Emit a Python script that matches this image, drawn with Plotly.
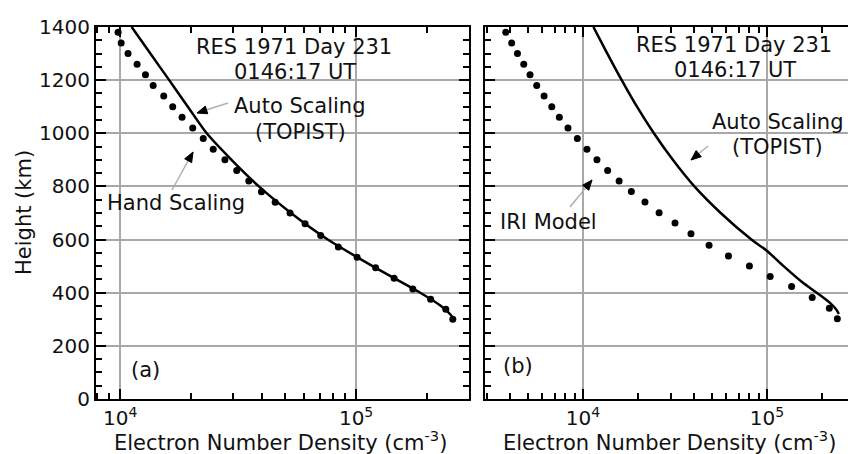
import plotly.graph_objects as go
import math

# ---------------- data ----------------
# Panel (a): hand scaling (dots) and auto scaling TOPIST (line)
hand_h = [1380, 1340, 1300, 1260, 1220, 1180, 1140, 1100, 1060, 1020, 980, 940, 900, 860,
          820, 780, 740, 700, 660, 615, 572, 533, 494, 454, 414, 375, 338, 300]
hand_ne = [9.80e3, 1.01e4, 1.08e4, 1.18e4, 1.28e4, 1.38e4, 1.53e4, 1.67e4, 1.83e4, 2.03e4,
           2.25e4, 2.48e4, 2.78e4, 3.12e4, 3.51e4, 3.97e4, 4.54e4, 5.25e4, 6.08e4, 7.08e4,
           8.41e4, 1.01e5, 1.21e5, 1.45e5, 1.74e5, 2.07e5, 2.40e5, 2.57e5]
auto_a_h = [1400, 1300, 1200, 1100, 1000, 900, 800, 700, 600, 500, 400, 350, 320, 305]
auto_a_ne = [1.119e4, 1.343e4, 1.614e4, 1.936e4, 2.328e4, 2.965e4, 3.873e4, 5.297e4, 7.586e4,
             1.175e5, 1.871e5, 2.291e5, 2.500e5, 2.570e5]

# Panel (b): IRI model (dots) and auto scaling TOPIST (line)
iri_h = [1380, 1340, 1300, 1260, 1220, 1180, 1140, 1100, 1060, 1020, 980, 940, 900, 860,
         820, 781, 741, 701, 662, 622, 579, 538, 501, 461, 423, 382, 342, 302]
iri_ne = [3.80e3, 4.09e3, 4.40e3, 4.76e3, 5.15e3, 5.60e3, 6.14e3, 6.76e3, 7.43e3, 8.28e3,
          9.31e3, 1.05e4, 1.19e4, 1.36e4, 1.57e4, 1.83e4, 2.17e4, 2.59e4, 3.16e4, 3.86e4,
          4.84e4, 6.17e4, 8.02e4, 1.04e5, 1.36e5, 1.76e5, 2.18e5, 2.41e5]
auto_b_h = [1400, 1300, 1200, 1100, 1000, 900, 800, 700, 600, 560, 500, 440, 400, 360, 335, 320]
auto_b_ne = [1.138e4, 1.355e4, 1.622e4, 1.963e4, 2.427e4, 3.076e4, 4.027e4, 5.598e4, 8.222e4,
             9.890e4, 1.230e5, 1.550e5, 1.862e5, 2.213e5, 2.388e5, 2.455e5]

major_x = [1e4, 1e5]
major_x_text = ["10<sup>4</sup>", "10<sup>5</sup>"]
y_ticks = [0, 200, 400, 600, 800, 1000, 1200, 1400]

FONT = "DejaVu Sans"
W, H = 848, 454
ML, MR, MT, MB = 96, 0, 27, 55
PW, PH = W - ML - MR, H - MT - MB


def px(x, y):
    return (x - ML) / PW, (H - MB - y) / PH


fig = go.Figure()

fig.add_trace(go.Scatter(x=auto_a_ne, y=auto_a_h, mode="lines",
                         line=dict(color="black", width=2.5, shape="spline", smoothing=0.7),
                         xaxis="x", yaxis="y", showlegend=False))
fig.add_trace(go.Scatter(x=hand_ne, y=hand_h, mode="markers", marker=dict(color="black", size=7),
                         xaxis="x", yaxis="y", showlegend=False))
fig.add_trace(go.Scatter(x=auto_b_ne, y=auto_b_h, mode="lines",
                         line=dict(color="black", width=2.5, shape="spline", smoothing=0.8),
                         xaxis="x2", yaxis="y2", showlegend=False))
fig.add_trace(go.Scatter(x=iri_ne, y=iri_h, mode="markers", marker=dict(color="black", size=7),
                         xaxis="x2", yaxis="y2", showlegend=False))

minor_a = [m * 10 ** e for e in (3, 4, 5) for m in range(2, 10) if 7.9e3 < m * 10 ** e < 3.01e5]
minor_b = [m * 10 ** e for e in (3, 4, 5) for m in range(2, 10) if 2.9e3 < m * 10 ** e < 2.8e5]

dom_a = [0, (469 - ML) / PW]
dom_b = [(485 - ML) / PW, 1.0]

common_x = dict(type="log", showline=True, linecolor="black", linewidth=2, ticks="inside", ticklen=10,
                tickwidth=1.5, tickcolor="black", mirror="ticks", showgrid=True, gridcolor="#a8a8a8",
                gridwidth=1.5, zeroline=False, tickvals=major_x, ticktext=major_x_text, automargin=False,
                tickfont=dict(family=FONT, size=20, color="#111"))
common_y = dict(range=[0, 1400], showline=True, linecolor="black", linewidth=2, ticks="inside", ticklen=10,
                tickwidth=1.5, tickcolor="black", showgrid=True, gridcolor="#a8a8a8", gridwidth=1.5,
                zeroline=False, tickvals=y_ticks, tickfont=dict(family=FONT, size=20, color="#111"),
                automargin=False,
                minor=dict(dtick=50, ticks="inside", ticklen=6, tickwidth=1.5, tickcolor="black", showgrid=False))

fig.update_layout(
    width=W, height=H, margin=dict(l=ML, r=MR, t=MT, b=MB),
    paper_bgcolor="white", plot_bgcolor="white",
    font=dict(family=FONT, color="#111"),
    xaxis=dict(common_x, domain=dom_a, range=[math.log10(7.9e3), math.log10(3.01e5)], anchor="y",
               minor=dict(tickvals=minor_a, ticks="inside", ticklen=6, tickwidth=1.5, tickcolor="black",
                          showgrid=False)),
    yaxis=dict(common_y, domain=[0, 1], anchor="x", mirror="ticks"),
    xaxis2=dict(common_x, domain=dom_b, range=[3.467, 5.44], anchor="y2",
                minor=dict(tickvals=minor_b, ticks="inside", ticklen=6, tickwidth=1.5, tickcolor="black",
                           showgrid=False)),
    yaxis2=dict(common_y, domain=[0, 1], anchor="x2", mirror=False, showticklabels=False),
)

# axis titles
for cx in (280, 669):
    xp, yp = px(cx, 441)
    fig.add_annotation(text="Electron Number Density (cm<sup>-3</sup>)", x=xp, y=yp, xref="paper", yref="paper",
                       showarrow=False, xanchor="center", yanchor="middle",
                       font=dict(family=FONT, size=21, color="#111"))
xp, yp = px(24, 213)
fig.add_annotation(text="Height (km)", x=xp, y=yp, xref="paper", yref="paper", showarrow=False,
                   textangle=-90, xanchor="center", yanchor="middle", font=dict(family=FONT, size=21, color="#111"))

texts = [
    ("RES 1971 Day 231", 294, 47), ("0146:17 UT", 295, 72), ("Auto Scaling", 300, 106),
    ("(TOPIST)", 300, 132), ("Hand Scaling", 176, 203), ("(a)", 145, 370),
    ("RES 1971 Day 231", 734, 45), ("0146:17 UT", 735, 70), ("Auto Scaling", 778, 122),
    ("(TOPIST)", 777, 147), ("IRI Model", 548, 222), ("(b)", 518, 366),
]
for t, x, y in texts:
    xp, yp = px(x, y)
    fig.add_annotation(text=t, x=xp, y=yp, xref="paper", yref="paper", showarrow=False,
                       xanchor="center", yanchor="middle", font=dict(family=FONT, size=21, color="#111"))

# pointer arrows: light grey shaft with a black head
arrows = [((228, 103), (197, 113)), ((172, 190), (193, 152)), ((708, 146), (691, 160)), ((570, 207), (592, 180))]
for (tx, ty), (hx, hy) in arrows:
    x0, y0 = px(tx, ty)
    x1, y1 = px(hx, hy)
    fig.add_shape(type="line", x0=x0, y0=y0, x1=x1, y1=y1, xref="paper", yref="paper",
                  line=dict(color="#b0b0b0", width=1.5))
    L = math.hypot(tx - hx, ty - hy)
    ux, uy = (tx - hx) / L, (ty - hy) / L
    bx, by = hx + ux * 10, hy + uy * 10
    pts = [(hx, hy), (bx - uy * 4, by + ux * 4), (bx + uy * 4, by - ux * 4)]
    ppts = [px(a, b) for a, b in pts]
    path = "M {} {} L {} {} L {} {} Z".format(*[v for p in ppts for v in p])
    fig.add_shape(type="path", path=path, xref="paper", yref="paper", fillcolor="black",
                  line=dict(color="black", width=1))

fig.write_html("out.html", config={"displayModeBar": False},
               post_script="document.body.style.margin='0';document.body.style.overflow='hidden';")
